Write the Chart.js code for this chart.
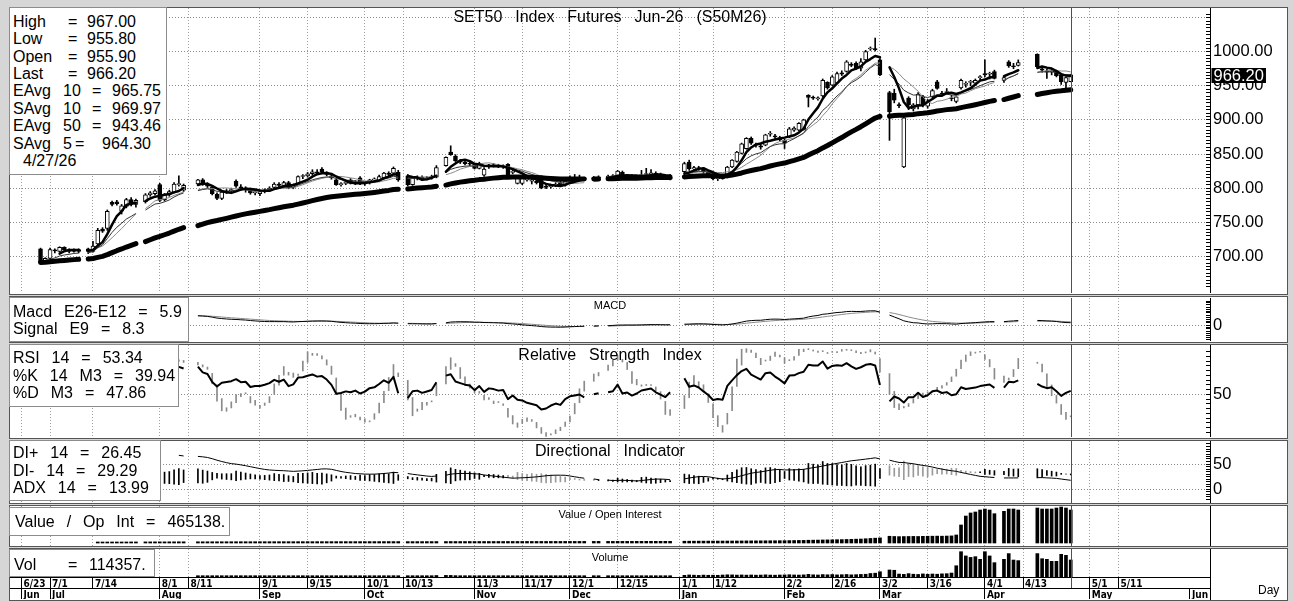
<!DOCTYPE html>
<html><head><meta charset="utf-8"><title>SET50 Index Futures Jun-26 (S50M26)</title>
<script src="https://cdn.jsdelivr.net/npm/chart.js@4.4.1/dist/chart.umd.min.js"></script>
<style>
html,body{margin:0;padding:0}
body{width:1294px;height:602px;background:#d6d6d6;position:relative;overflow:hidden;font-family:'Liberation Sans',Arial,sans-serif;color:#000}
.panel{position:absolute;left:9px;width:1279px;background:#fff;border:1px solid #555;box-sizing:border-box}
canvas{position:absolute;left:10px;z-index:2}
.box{position:absolute;background:#fff;border:1px solid #8c8c8c;box-sizing:border-box;z-index:5}
.t{position:absolute;font-size:16px;line-height:18px;height:18px;white-space:pre;z-index:6}
.ws{word-spacing:7.5px}
.ttl{position:absolute;font-size:16px;line-height:18px;white-space:pre;word-spacing:8.5px;transform:translateX(-50%);z-index:4}
.sm{position:absolute;font-size:11px;line-height:12px;white-space:pre;transform:translateX(-50%);z-index:4}
.vl{position:absolute;background:#000;z-index:4}
</style></head><body>
<div class="panel" style="top:7px;height:288px"></div>
<div class="panel" style="top:296px;height:47px"></div>
<div class="panel" style="top:344px;height:95px"></div>
<div class="panel" style="top:440px;height:64px"></div>
<div class="panel" style="top:505px;height:42px"></div>
<div class="panel" style="top:548px;height:53px"></div>

<canvas id="cMain" width="1276" height="285" style="top:8px"></canvas>
<canvas id="cMacd" width="1276" height="43" style="top:298px"></canvas>
<canvas id="cRsi" width="1276" height="92" style="top:345px"></canvas>
<canvas id="cDi" width="1276" height="62" style="top:441px"></canvas>
<canvas id="cVal" width="1276" height="40" style="top:506px"></canvas>
<canvas id="cVol" width="1276" height="50" style="top:549px"></canvas>
<div class="vl" style="left:1210px;top:577px;width:1px;height:23px"></div>

<!-- titles -->
<div class="ttl" style="left:610px;top:8px">SET50 Index Futures Jun-26 (S50M26)</div>
<div class="sm" style="left:610px;top:299px">MACD</div>
<div class="ttl" style="left:610px;top:346px">Relative Strength Index</div>
<div class="ttl" style="left:610px;top:441.5px">Directional Indicator</div>
<div class="sm" style="left:610px;top:507.5px">Value / Open Interest</div>
<div class="sm" style="left:610px;top:550.5px">Volume</div>
<div class="t" style="left:1258px;top:581px;font-size:12px">Day</div>

<!-- main legend -->
<div class="box" style="left:9px;top:7px;width:158px;height:168px"></div>
<div class="t" style="left:13px;top:12.7px">High</div><div class="t" style="left:68px;top:12.7px">=</div><div class="t" style="left:87px;top:12.7px">967.00</div>
<div class="t" style="left:13px;top:30.1px">Low</div><div class="t" style="left:68px;top:30.1px">=</div><div class="t" style="left:87px;top:30.1px">955.80</div>
<div class="t" style="left:13px;top:47.5px">Open</div><div class="t" style="left:68px;top:47.5px">=</div><div class="t" style="left:87px;top:47.5px">955.90</div>
<div class="t" style="left:13px;top:64.9px">Last</div><div class="t" style="left:68px;top:64.9px">=</div><div class="t" style="left:87px;top:64.9px">966.20</div>
<div class="t" style="left:13px;top:82.3px">EAvg</div><div class="t" style="left:63px;top:82.3px">10</div><div class="t" style="left:92px;top:82.3px">=</div><div class="t" style="left:112px;top:82.3px">965.75</div>
<div class="t" style="left:13px;top:99.7px">SAvg</div><div class="t" style="left:63px;top:99.7px">10</div><div class="t" style="left:92px;top:99.7px">=</div><div class="t" style="left:112px;top:99.7px">969.97</div>
<div class="t" style="left:13px;top:117.1px">EAvg</div><div class="t" style="left:63px;top:117.1px">50</div><div class="t" style="left:92px;top:117.1px">=</div><div class="t" style="left:112px;top:117.1px">943.46</div>
<div class="t" style="left:13px;top:134.5px">SAvg</div><div class="t" style="left:63px;top:134.5px">5</div><div class="t" style="left:75px;top:134.5px">=</div><div class="t" style="left:102px;top:134.5px">964.30</div>
<div class="t" style="left:23px;top:151.9px">4/27/26</div>

<!-- MACD legend -->
<div class="box" style="left:9px;top:297px;width:180px;height:45px"></div>
<div class="t ws" style="left:13px;top:303px">Macd E26-E12 = 5.9</div>
<div class="t ws" style="left:13px;top:320px">Signal E9 = 8.3</div>

<!-- RSI legend -->
<div class="box" style="left:9px;top:344px;width:170px;height:63px"></div>
<div class="t ws" style="left:13px;top:349px">RSI 14 = 53.34</div>
<div class="t ws" style="left:13px;top:366.5px">%K 14 M3 = 39.94</div>
<div class="t ws" style="left:13px;top:384px">%D M3 = 47.86</div>

<!-- DI legend -->
<div class="box" style="left:9px;top:440px;width:152px;height:61px"></div>
<div class="t ws" style="left:13px;top:444px">DI+ 14 = 26.45</div>
<div class="t ws" style="left:13px;top:461.5px">DI- 14 = 29.29</div>
<div class="t ws" style="left:13px;top:479px">ADX 14 = 13.99</div>

<!-- Value legend -->
<div class="box" style="left:9px;top:507px;width:221px;height:29px"></div>
<div class="t ws" style="left:15px;top:512.5px">Value / Op Int = 465138.</div>

<!-- Vol legend -->
<div class="box" style="left:9px;top:549px;width:146px;height:28px"></div>
<div class="t" style="left:14px;top:555.5px">Vol</div><div class="t" style="left:68px;top:555.5px">=</div><div class="t" style="left:89px;top:555.5px">114357.</div>

<script>
const FONT = "'Liberation Sans', Arial, sans-serif";
const NARROW = "'Liberation Sans Narrow', 'DejaVu Sans Condensed', 'Liberation Sans', sans-serif";

// ---------------- categories (trading calendar) ----------------
const ORIGIN = '2025-06-23';
const FIRST_DAY = '2025-06-27';
const LAST_DAY = '2026-04-27';
const HOLIDAYS = ['2025-07-10','2025-07-28','2025-08-11','2025-08-12','2025-10-13','2025-10-23',
  '2025-12-05','2025-12-10','2025-12-31','2026-01-01','2026-03-03','2026-04-06',
  '2026-04-13','2026-04-14','2026-04-15'];

// ---------------- price data (one value per trading day) ----------------
const OPEN = [
 711,693,697,709,707,713,709,707,710,711,
 707,718,740,741,779,780,766,773,783,776,
 780,790,792,805,783,790,794,805,797,806,
 812,805,801,791,785,794,796,810,802,799,
 799,793,792,795,797,801,806,803,808,801,
 807,817,818,821,824,828,822,818,812,805,
 807,812,808,815,806,808,812,811,815,822,
 822,823,818,805,815,816,813,815,816,833,
 853,847,840,838,836,835,829,819,831,834,
 833,831,835,823,807,807,812,810,810,817,
 803,802,804,808,804,812,813,814,815,814,
 815,816,817,818,823,817,818,815,818,820,
 821,822,819,817,813,
 824,838,828,830,828,824,818,814,818,816,
 831,839,851,858,873,864,862,863,879,876,
 874,870,875,885,885,886,936,933,931,935,
 955,951,954,969,971,982,983,976,988,1004,
 1004,988,940,939,922,831,932,916,922,934,
 920,934,956,939,940,932,927,947,952,955,
 954,962,968,967,971,958,985,979,980,996,
 975,972,970,972,966,955,955.9];
const HIGH = [
 712,698,712,711,714,714,711,711,711,712,
 722,741,742,768,781,782,776,785,786,784,
 792,795,798,807,792,797,808,818,806,813,
 814,808,803,793,796,798,800,812,805,802,
 800,797,797,799,802,808,808,810,810,806,
 818,820,823,827,827,830,824,820,813,808,
 811,814,811,817,809,813,815,819,823,824,
 831,826,820,816,818,818,817,819,833,846,
 862,849,842,840,839,836,838,830,835,836,
 835,834,836,827,818,818,816,813,812,818,
 805,806,808,810,811,818,820,819,816,817,
 818,819,820,826,825,820,820,818,826,829,
 827,824,822,820,820,
 838,841,832,832,830,826,819,817,819,832,
 842,854,866,874,875,866,864,879,883,879,
 876,872,889,890,896,901,937,935,934,960,
 956,965,970,972,987,984,985,990,1002,1007,
 1020,990,942,945,925,905,934,924,940,936,
 930,945,958,942,946,936,935,960,956,958,
 960,965,988,970,973,964,987,983,988,997,
 978,974,975,973,968,963,967];
const LOW = [
 689,691,696,705,706,707,705,706,705,704,
 706,715,735,738,774,775,762,771,774,772,
 778,788,790,780,781,788,793,803,795,805,
 804,800,790,783,783,792,794,801,797,794,
 791,790,789,793,795,800,802,801,799,799,
 806,814,816,819,820,822,818,813,804,803,
 805,806,805,805,804,806,809,810,814,818,
 820,810,803,804,812,811,812,813,815,832,
 848,839,836,834,833,828,828,817,829,831,
 830,829,818,821,806,805,810,806,806,799,
 799,800,802,803,803,810,811,811,811,812,
 813,814,815,817,816,815,814,813,817,819,
 819,818,816,814,812,
 822,826,825,826,822,818,812,811,813,815,
 830,838,850,857,864,860,857,862,876,873,
 869,858,874,883,884,885,919,930,929,933,
 945,950,953,965,970,978,974,972,987,1002,
 1001,965,870,925,918,830,915,913,916,919,
 917,930,945,935,938,928,925,945,948,950,
 951,958,963,960,960,955,977,975,979,976,
 970,961,966,963,952,946,955.8];
const CLOSE = [
 691,697,710,708,713,709,707,710,707,707,
 715,738,737,766,776,777,774,783,776,782,
 790,793,796,782,790,795,806,806,804,812,
 805,803,792,785,794,796,798,803,799,800,
 793,795,795,797,800,806,804,808,801,804,
 817,818,821,824,822,823,820,815,805,806,
 808,807,809,806,808,812,813,817,822,820,
 829,812,805,815,816,813,815,817,830,845,
 849,840,838,836,835,829,836,828,834,833,
 831,832,819,824,817,816,812,810,808,800,
 801,804,806,804,810,813,814,815,812,815,
 816,817,818,825,817,818,815,817,820,821,
 822,819,817,815,819,
 836,828,830,828,824,820,814,815,814,831,
 841,853,865,873,866,863,860,878,880,875,
 871,866,887,888,895,900,933,932,932,958,
 947,963,968,967,985,980,976,985,1000,1005,
 1003,966,912,929,921,903,922,922,938,922,
 928,943,946,938,941,931,934,958,953,956,
 958,963,966,968,961,962,979,978,984,978,
 973,970,972,965,956,962,966.2];
const VALUE_OI = [
 null,null,null,null,null,null,null,null,null,null,
 null,10000,11000,12000,13000,13500,14000,14500,15000,15000,
 15500,15500,16000,16000,16000,16500,16500,17000,17000,17000,
 17200,17300,17500,17400,17600,17800,17700,17900,18000,18100,
 18000,18200,18300,18200,18400,18500,18400,18600,18700,18600,
 18800,18900,19000,18900,19100,19200,19100,19300,19400,19300,
 19500,19400,19600,19700,19600,19800,19900,19800,20000,20100,
 20000,20200,19500,19600,19800,19900,20100,20000,20300,20500,
 20800,20600,20700,20900,21000,20800,21100,21200,21000,21300,
 21400,21200,21500,21600,21400,21700,21800,21600,21900,22000,
 21800,22100,22200,22000,22300,22400,22200,22500,22600,22400,
 22700,22800,22600,22900,23000,22800,23100,23200,23000,23300,
 23400,23200,23500,23600,23400,
 25000,25500,26000,26200,26500,26800,27000,27300,27500,27800,
 28000,28500,29000,29500,30000,30400,30800,31200,31600,32000,
 32500,33000,34000,35000,36000,37000,39000,40000,41000,43000,
 44000,45000,47000,48000,50000,52000,54000,56000,60000,64000,
 68000,72000,95000,92000,90000,91000,92000,93000,92000,94000,
 95000,96000,97000,96000,98000,100000,113000,254000,380000,423000,
 437000,465000,479000,465000,413000,446000,479000,479000,465000,493000,
 479000,479000,479000,493000,507000,493000,465138];
const VOLUME = [
 null,null,null,null,null,null,null,null,null,null,
 null,null,null,null,null,null,null,null,null,null,
 null,null,null,null,null,null,null,null,null,4000,
 4500,3800,5200,4700,4100,3900,4400,5600,4200,3700,
 4300,4800,3900,4100,5000,4600,3800,4200,6200,4400,
 5100,4300,4700,5400,4100,6100,4500,3900,4800,5200,
 4400,4900,5300,4200,4600,5800,4300,4700,5500,6400,
 7200,5600,6100,4800,5300,4600,5100,5700,8200,9100,
 8800,7300,6200,5400,5100,6300,5800,6700,5200,5600,
 4900,5300,6600,5500,5900,6200,5000,5400,5100,6800,
 5300,4800,5200,5500,5900,6000,5400,5200,5600,5800,
 5000,5300,5100,6100,5800,4900,5200,5500,4700,5400,
 5600,4800,5300,5900,6200,
 9500,12000,10500,9000,11000,9800,10200,9600,11500,13000,
 12500,11000,12000,10800,11800,10500,11200,12800,11000,10400,
 11600,12200,13500,12000,11200,12600,16000,13000,11800,14500,
 13200,14800,12500,13600,15200,12800,14000,15500,16800,22000,
 24000,34000,46000,44000,18000,16000,21000,17000,15500,19000,
 16500,18500,17000,19500,20500,25000,75000,171000,142000,132000,
 137000,119000,171000,142000,96000,119000,158000,114000,110000,158000,
 123000,119000,105000,105000,153000,146000,114357];

// ---------------- axis tick labels ----------------
const DATE_TICKS = ['2025-06-23','2025-07-01','2025-07-14','2025-08-01','2025-08-11','2025-09-01','2025-09-15',
  '2025-10-01','2025-10-13','2025-11-03','2025-11-17','2025-12-01','2025-12-15','2026-01-01','2026-01-12',
  '2026-02-02','2026-02-16','2026-03-02','2026-03-16','2026-04-01','2026-04-13','2026-05-01','2026-05-11'];
const DATE_LABELS = ['6/23','7/1','7/14','8/1','8/11','9/1','9/15','10/1','10/13','11/3','11/17','12/1','12/15',
  '1/1','1/12','2/2','2/16','3/2','3/16','4/1','4/13','5/1','5/11'];
const MONTH_TICKS = ['2025-06-23','2025-07-01','2025-08-01','2025-09-01','2025-10-01','2025-11-03','2025-12-01',
  '2026-01-01','2026-02-02','2026-03-02','2026-04-01','2026-05-01','2026-06-01'];
const MONTH_LABELS = ['Jun','Jul','Aug','Sep','Oct','Nov','Dec','Jan','Feb','Mar','Apr','May','Jun'];
const PRICE_LABELS = [700,750,800,850,900,950,1000];

// ---------------- calendar helpers ----------------
function dayNum(s){ const p = s.split('-').map(Number); return Date.UTC(p[0],p[1]-1,p[2])/86400000; }
function slotOf(s){ const n = dayNum(s) - dayNum(ORIGIN); return Math.floor(n/7)*5 + (n%7); }
const tradeSlots = [];
for (let n = dayNum(FIRST_DAY); n <= dayNum(LAST_DAY); n++) {
  const d = new Date(n*86400000); const wd = d.getUTCDay();
  if (wd === 0 || wd === 6) continue;
  const s = d.toISOString().slice(0,10);
  if (HOLIDAYS.includes(s)) continue;
  tradeSlots.push(slotOf(s));
}
const DATE_SLOTS = DATE_TICKS.map(slotOf);
const MONTH_SLOTS = MONTH_TICKS.map(slotOf);
const CURSOR_SLOT = slotOf(LAST_DAY);
const X_MIN = -2.4, X_MAX = 249.2;

function toSeries(vals){
  const out = []; let t = 0;
  for (let s = tradeSlots[0]; s <= tradeSlots[tradeSlots.length-1]; s++) {
    if (tradeSlots[t] === s) { out.push({x:s, y: vals[t] == null ? null : vals[t]}); t++; }
    else out.push({x:s, y:null});
  }
  return out;
}

// ---------------- indicators (defined by the legend) ----------------
function ema(src,n){ const k = 2/(n+1); let e = null; return src.map(v => { if (v == null) return null; e = e == null ? v : e + k*(v-e); return e; }); }
function sma(src,n){ return src.map((v,i) => { if (i < n-1) return null; let s = 0; for (let j=i-n+1;j<=i;j++){ if (src[j]==null) return null; s += src[j]; } return s/n; }); }
function rsi(c,n){
  const out = c.map(()=>null); let ag=0, al=0;
  for (let i=1;i<c.length;i++){
    const d = c[i]-c[i-1], g = Math.max(d,0), l = Math.max(-d,0);
    if (i <= n) { ag += g/n; al += l/n; if (i === n) out[i] = al===0?100:100-100/(1+ag/al); }
    else { ag = (ag*(n-1)+g)/n; al = (al*(n-1)+l)/n; out[i] = al===0?100:100-100/(1+ag/al); }
  }
  return out;
}
function dmi(H,L,C,n){
  const len = C.length, pdi = Array(len).fill(null), mdi = Array(len).fill(null), adx = Array(len).fill(null);
  let sTR=0,sP=0,sM=0,a=null; const dxs=[];
  for (let i=1;i<len;i++){
    const up = H[i]-H[i-1], dn = L[i-1]-L[i];
    const p = (up>dn && up>0)?up:0, m = (dn>up && dn>0)?dn:0;
    const tr = Math.max(H[i]-L[i], Math.abs(H[i]-C[i-1]), Math.abs(L[i]-C[i-1]));
    if (i<=n){ sTR+=tr; sP+=p; sM+=m; } else { sTR=sTR-sTR/n+tr; sP=sP-sP/n+p; sM=sM-sM/n+m; }
    if (i>=n){
      const dp = 100*sP/sTR, dm = 100*sM/sTR; pdi[i]=dp; mdi[i]=dm;
      const dx = (dp+dm)===0?0:100*Math.abs(dp-dm)/(dp+dm);
      if (i < 2*n-1) dxs.push(dx);
      else if (i === 2*n-1){ dxs.push(dx); a = dxs.reduce((s,v)=>s+v,0)/n; adx[i]=a; }
      else { a = (a*(n-1)+dx)/n; adx[i]=a; }
    }
  }
  return {pdi,mdi,adx};
}

const eAvg10 = ema(CLOSE,10), sAvg10 = sma(CLOSE,10), eAvg50 = ema(CLOSE,50), sAvg5 = sma(CLOSE,5);
const e12 = ema(CLOSE,12), e26 = ema(CLOSE,26);
const macdRaw = e12.map((v,i)=>v - e26[i]);
const signalRaw = ema(macdRaw,9);
const macdLine = macdRaw.map((v,i)=> i>=25 ? v : null);
const signalLine = signalRaw.map((v,i)=> i>=25 ? v : null);
const rsiLine = rsi(CLOSE,14);
const rawK = CLOSE.map((c,i)=>{ if (i<13) return null; let hh=-Infinity, ll=Infinity; for(let j=i-13;j<=i;j++){ hh=Math.max(hh,HIGH[j]); ll=Math.min(ll,LOW[j]); } return hh===ll?50:(c-ll)/(hh-ll)*100; });
const pctK = sma(rawK,3), pctD = sma(pctK,3);
const DM = dmi(HIGH,LOW,CLOSE,14);

// ---------------- shared scale builders ----------------
function near(v,m){ return Math.abs(v/m - Math.round(v/m)) < 1e-6; }
function xAxis(dateAxis){
  return {
    type:'linear', min:X_MIN, max:X_MAX, offset:false, weight:0,
    afterBuildTicks: a => { a.ticks = DATE_SLOTS.map(v => ({value:v})); },
    afterFit: a => { a.height = dateAxis ? 11 : 0; a.paddingLeft = 0; a.paddingRight = 0; },
    ticks:{display:dateAxis, autoSkip:false, maxRotation:0, minRotation:0, align:'start', labelOffset:2, padding:-10,
      color:'#000', font:{family:NARROW, size:10, weight:'bold'},
      callback: v => { const k = DATE_SLOTS.indexOf(v); return k >= 0 ? DATE_LABELS[k] : ''; }},
    grid:{offset:false, color:'#a0a0a0', lineWidth:1, drawTicks:dateAxis, tickLength:11, tickColor:'#000', tickBorderDash:[], tickWidth:1},
    border:{display:dateAxis, color:'#000', width:1, dash:[1,2]}
  };
}
function monthAxis(){
  return {
    type:'linear', position:'bottom', min:X_MIN, max:X_MAX, offset:false, weight:1,
    afterBuildTicks: a => { a.ticks = MONTH_SLOTS.map(v => ({value:v})); },
    afterFit: a => { a.height = 11; a.paddingLeft = 0; a.paddingRight = 0; },
    ticks:{display:true, autoSkip:false, maxRotation:0, minRotation:0, align:'start', labelOffset:2, padding:-10,
      color:'#000', font:{family:NARROW, size:10, weight:'bold'},
      callback: v => { const k = MONTH_SLOTS.indexOf(v); return k >= 0 ? MONTH_LABELS[k] : ''; }},
    grid:{offset:false, drawOnChartArea:false, drawTicks:true, tickLength:11, tickColor:'#000', tickBorderDash:[], color:'#000', tickWidth:1},
    border:{display:true, color:'#000', width:1}
  };
}
function yAxis(min, max, step, labelFn, gridFn){
  return {
    type:'linear', position:'right', min, max,
    afterFit: a => { a.width = 76; a.paddingTop = 0; a.paddingBottom = 0; },
    ticks:{stepSize:step, maxTicksLimit:1000, autoSkip:false, padding:7, color:'#000',
      font:{family:FONT, size:16.5}, callback: v => labelFn(v)},
    grid:{color: c => gridFn(c.tick.value) ? '#8c8c8c' : 'rgba(0,0,0,0)', lineWidth:1, drawTicks:true, tickLength:-4,
      tickColor: c => near(c.tick.value, step) ? '#000' : 'rgba(0,0,0,0)', tickBorderDash:[], tickWidth:1},
    border:{display:true, color:'#000', width:1, dash:[1,2]}
  };
}

const cursorPlugin = {
  id:'cursorLine',
  afterDatasetsDraw(chart, args, o){
    const {ctx, chartArea} = chart;
    const x = Math.round(chart.scales.x.getPixelForValue(CURSOR_SLOT)) + 0.5;
    ctx.save(); ctx.strokeStyle = '#505050'; ctx.lineWidth = 1;
    ctx.beginPath(); ctx.moveTo(x, chartArea.top); ctx.lineTo(x, chartArea.bottom + (o.extra || 0)); ctx.stroke();
    ctx.restore();
  }
};
const lastPricePlugin = {
  id:'lastPrice',
  afterDraw(chart){
    const last = CLOSE[CLOSE.length-1];
    const txt = last.toFixed(2);
    const y = chart.scales.y.getPixelForValue(last);
    const ctx = chart.ctx; ctx.save();
    ctx.font = '16.5px ' + FONT;
    const w = ctx.measureText(txt).width;
    ctx.fillStyle = '#000'; ctx.fillRect(1201.5, Math.round(y) - 7, w + 4, 15);
    ctx.fillStyle = '#fff'; ctx.textBaseline = 'middle'; ctx.textAlign = 'left';
    ctx.fillText(txt, 1203.5, Math.round(y) + 1);
    ctx.restore();
  }
};

function makeChart(id, datasets, y, opts){
  opts = opts || {};
  const scales = { x: xAxis(!!opts.dateAxis), y: y };
  if (opts.dateAxis) scales.x2 = monthAxis();
  return new Chart(document.getElementById(id), {
    type:'bar',
    data:{datasets},
    options:{
      responsive:false, animation:false, devicePixelRatio:1, events:[],
      layout:{padding:0},
      plugins:{legend:{display:false}, tooltip:{enabled:false}, cursorLine:{extra: opts.dateAxis ? 11 : 0}},
      scales
    },
    plugins:[cursorPlugin].concat(opts.plugins || [])
  });
}
function lineDS(vals, color, width, extra){
  return Object.assign({type:'line', data:toSeries(vals), borderColor:color, borderWidth:width, pointRadius:0,
    tension:0, spanGaps:false, fill:false, order:0, xAxisID:'x', borderJoinStyle:'round'}, extra || {});
}

// ---------------- main price panel ----------------
const wickData = tradeSlots.map((s,i)=>({x:s, y:[LOW[i], HIGH[i]]}));
const bodyData = tradeSlots.map((s,i)=>({x:s, y:[Math.min(OPEN[i],CLOSE[i]), Math.max(OPEN[i],CLOSE[i])]}));
const bodyColors = CLOSE.map((c,i)=> c >= OPEN[i] ? '#ffffff' : '#000000');
makeChart('cMain', [
  lineDS(eAvg50, '#000', 5, {borderCapStyle:'round'}),
  lineDS(sAvg5, '#000', 2.5, {borderCapStyle:'round'}),
  lineDS(eAvg10, '#333', 1),
  lineDS(sAvg10, '#8a8a8a', 1),
  {type:'bar', data:bodyData, backgroundColor:bodyColors, borderColor:'#000', borderWidth:1, borderSkipped:false,
   barThickness:4, minBarLength:1, grouped:false, order:1, xAxisID:'x'},
  {type:'bar', data:wickData, backgroundColor:'#000', borderWidth:0, barThickness:1, minBarLength:1, grouped:false, order:2, xAxisID:'x'}
], yAxis(646.19, 1064.08, 5,
  v => PRICE_LABELS.some(p => Math.abs(p - v) < 1e-6) ? v.toFixed(2) : '',
  v => near(v,50) && v > 647 && v < 1064), {plugins:[lastPricePlugin]});

// ---------------- MACD ----------------
makeChart('cMacd', [
  lineDS(macdLine, '#000', 1),
  lineDS(signalLine, '#8a8a8a', 1)
], yAxis(-40, 67.5, 5, v => Math.abs(v) < 1e-6 ? '0' : '', v => Math.abs(v) < 1e-6));

// ---------------- RSI / Stochastic ----------------
const stochData = [];
tradeSlots.forEach((s,i)=>{ if (pctK[i] != null && pctD[i] != null) stochData.push({x:s, y:[pctK[i], pctD[i]]}); });
makeChart('cRsi', [
  lineDS(rsiLine, '#000', 2),
  {type:'bar', data:stochData, backgroundColor:'#8a8a8a', borderWidth:0, barThickness:1, minBarLength:1, grouped:false, order:1, xAxisID:'x'}
], yAxis(5, 102, 5, v => Math.abs(v-50) < 1e-6 ? '50' : '', v => Math.abs(v-50) < 1e-6 || Math.abs(v-100) < 1e-6));

// ---------------- Directional indicator ----------------
const diData = [], diColors = [];
tradeSlots.forEach((s,i)=>{ if (DM.pdi[i] != null) { diData.push({x:s, y:[DM.pdi[i], DM.mdi[i]]}); diColors.push(DM.pdi[i] >= DM.mdi[i] ? '#000' : '#9a9a9a'); } });
makeChart('cDi', [
  lineDS(DM.adx, '#000', 1),
  {type:'bar', data:diData, backgroundColor:diColors, borderWidth:0, barThickness:1, minBarLength:1, grouped:false, order:1, xAxisID:'x'}
], yAxis(-28, 96, 5, v => Math.abs(v-50) < 1e-6 ? '50' : (Math.abs(v) < 1e-6 ? '0' : ''), v => Math.abs(v-50) < 1e-6 || Math.abs(v) < 1e-6));

// ---------------- Value / Open interest ----------------
const valData = []; tradeSlots.forEach((s,i)=>{ if (VALUE_OI[i] != null) valData.push({x:s, y:VALUE_OI[i]}); });
makeChart('cVal', [
  {type:'bar', data:valData, backgroundColor:'#000', borderWidth:0, barThickness:3, minBarLength:1, grouped:false, order:1, xAxisID:'x'}
], yAxis(-42300, 521500, 40000, v => '', v => Math.abs(v) < 1e-6));

// ---------------- Volume + date axis ----------------
const volData = []; tradeSlots.forEach((s,i)=>{ if (VOLUME[i] != null) volData.push({x:s, y:VOLUME[i]}); });
makeChart('cVol', [
  {type:'bar', data:volData, backgroundColor:'#000', borderWidth:0, barThickness:3, minBarLength:1, grouped:false, order:1, xAxisID:'x'}
], yAxis(-2050, 189500, 20000, v => '', v => Math.abs(v) < 1e-6), {dateAxis:true});
</script>
</body></html>
